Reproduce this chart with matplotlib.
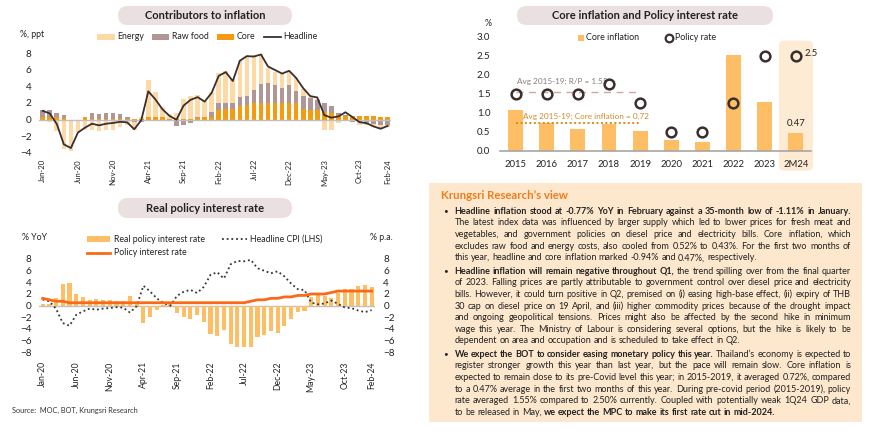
import matplotlib
matplotlib.use('Agg')
import matplotlib.pyplot as plt
from matplotlib.patches import FancyBboxPatch, Rectangle
from matplotlib.lines import Line2D
from matplotlib.transforms import IdentityTransform
import numpy as np
import pandas as pd

plt.rcParams['font.family'] = ['Lato', 'DejaVu Sans']

# ---------------- data ----------------
months = list(pd.date_range('2020-01-01', periods=50, freq='MS').strftime('%b-%y'))
tick_idx = [0, 5, 10, 15, 20, 25, 30, 35, 40, 45, 49]

core = [0.35, 0.3, 0.3, 0.2, 0.0, 0.0, 0.25, 0.1, 0.1, 0.1, 0.1, 0.1,
        0.05, 0.05, 0.05, 0.25, 0.3, 0.3, 0.1, 0.05, 0.05, 0.1, 0.15, 0.25,
        0.35, 1.1, 1.3, 1.33, 1.6, 1.75, 2.0, 2.06, 2.06, 2.06, 2.06, 2.06,
        1.95, 1.33, 1.15, 1.1, 0.95, 0.75, 0.5, 0.45, 0.4, 0.4, 0.4, 0.4,
        0.35, 0.3]
raw_food = [0.75, 0.8, 0.55, 0.35, -0.2, -0.2, 0.0, 0.65, 0.6, 0.65, 0.7, 0.55,
            0.25, -0.35, -0.3, -0.1, -0.2, -0.1, -0.1, -0.8, -0.7, -0.4, 0.1, 0.1,
            0.58, 0.85, 0.65, 0.73, 1.1, 1.15, 1.6, 2.2, 2.3, 2.1, 1.75, 2.1,
            1.55, 1.55, 1.4, 1.3, 1.0, 0.85, 0.35, 0.1, -0.3, -0.3, -0.4, -0.55,
            -0.7, -0.6]
energy = [-0.05, -0.3, -1.4, -3.6, -3.6, -1.3, -1.3, -1.3, -1.4, -1.25, -1.2, -0.95,
          -0.65, -0.85, 0.2, 4.5, 3.05, 1.2, 0.6, 0.8, 2.45, 2.8, 2.7, 1.95,
          2.4, 3.65, 3.95, 2.8, 4.5, 4.8, 4.2, 3.6, 1.9, 1.6, 1.65, 1.7,
          1.5, 0.85, 0.2, 0.1, -1.2, -1.2, -0.4, 0.0, -0.05, -0.35, -0.3, -0.35,
          -0.4, -0.3]
headline = [1.05, 0.74, -0.54, -2.99, -3.44, -1.57, -0.98, -0.50, -0.70, -0.50, -0.41, -0.27,
            -0.34, -1.17, -0.08, 3.41, 2.44, 1.25, 0.45, -0.02, 1.68, 2.38, 2.71, 2.17,
            3.23, 5.28, 5.73, 4.65, 7.10, 7.66, 7.61, 7.86, 6.41, 5.98, 5.55, 5.89,
            5.02, 3.79, 2.83, 2.67, 0.53, 0.23, 0.38, 0.88, 0.30, -0.31, -0.44, -0.83,
            -1.11, -0.77]

policy_rate = [1.25, 1.0, 0.75, 0.75, 0.5] + [0.5] * 26 + \
              [0.75, 1.0, 1.0, 1.25, 1.25, 1.5, 1.5, 1.75, 1.75, 2.0, 2.0, 2.0,
               2.25, 2.5, 2.5, 2.5, 2.5, 2.5, 2.5]
real_rate = [0.2, 0.26, 1.29, 3.74, 3.94, 2.07, 1.48, 1.0, 1.2, 1.0, 0.91, 0.77,
             0.84, 1.67, 0.58, -2.91, -1.94, -0.75, 0.05, 0.52, -1.18, -1.88, -2.21, -1.67,
             -2.73, -4.78, -5.23, -4.15, -6.6, -7.16, -7.11, -7.11, -5.41, -4.98, -4.30, -4.64,
             -3.52, -2.29, -1.08, -0.92, 1.47, 1.77, 1.62, 1.37, 2.2, 2.81, 2.94, 3.33,
             3.61, 3.27]

years = ['2015', '2016', '2017', '2018', '2019', '2020', '2021', '2022', '2023', '2M24']
core_annual = [1.06, 0.74, 0.56, 0.71, 0.52, 0.29, 0.23, 2.51, 1.27, 0.47]
policy_annual = [1.50, 1.50, 1.50, 1.75, 1.25, 0.50, 0.50, 1.25, 2.50, 2.50]
avg_rp = 1.55
avg_core = 0.72

# ---------------- colours ----------------
C_EN = '#FDD9A6'
C_RAW = '#B09797'
C_CORE = '#F59B10'
C_HEAD = '#3A2E2E'
C_REAL = '#FDBE66'
C_POL = '#FA6A16'
C_PILL = '#EAE0DF'
C_BOX = '#FDE8CD'
C_ZERO = '#BFBFBF'
TXT = '#222222'

W, H = 870, 436
fig = plt.figure(figsize=(W / 100, H / 100), dpi=100)
fig.patch.set_facecolor('white')


def fx(x):
    return x / W


def fy(y):
    return 1 - y / H


def axes_px(l, t, r, b):
    ax = fig.add_axes([fx(l), fy(b), (r - l) / W, (b - t) / H])
    ax.set_zorder(2)
    return ax


def rbox(x0, y0, x1, y1, color, r, z=-1):
    p = FancyBboxPatch((x0, H - y1), x1 - x0, y1 - y0,
                       boxstyle=f'round,pad=0,rounding_size={r}',
                       transform=IdentityTransform(), facecolor=color,
                       edgecolor='none', zorder=z)
    fig.patches.append(p)


def rect(x0, y0, x1, y1, color, z=5):
    p = Rectangle((x0, H - y1), x1 - x0, y1 - y0, transform=IdentityTransform(),
                  facecolor=color, edgecolor='none', zorder=z)
    fig.patches.append(p)


def hline(x0, x1, y, color, lw, ls='-'):
    fig.add_artist(Line2D([fx(x0), fx(x1)], [fy(y), fy(y)], color=color, lw=lw, ls=ls,
                          transform=fig.transFigure, zorder=5))


def ftext(x, y, s, size, **kw):
    kw.setdefault('va', 'center')
    kw.setdefault('color', TXT)
    kw.setdefault('zorder', 5)
    return fig.text(fx(x), fy(y), s, fontsize=size, **kw)


# ---------------- pills ----------------
rbox(118, 6, 292, 25, C_PILL, 9.5)
ftext(205, 15.5, 'Contributors to inflation', 8.0, ha='center', fontweight='bold')
rbox(118, 198, 292, 218, C_PILL, 10)
ftext(205, 208, 'Real policy interest rate', 8.0, ha='center', fontweight='bold')
rbox(517, 6, 773, 25, C_PILL, 9.5)
ftext(645, 15.5, 'Core inflation and Policy interest rate', 8.0, ha='center', fontweight='bold')

# ---------------- chart 1 ----------------
x = np.arange(len(months))
ax1 = axes_px(39.2, 53.3, 391.2, 152.7)
pos_b = np.zeros(len(x))
neg_b = np.zeros(len(x))
for vals, col in [(core, C_CORE), (raw_food, C_RAW), (energy, C_EN)]:
    v = np.array(vals)
    b = np.where(v >= 0, pos_b, neg_b)
    ax1.bar(x, v, bottom=b, width=0.66, color=col, zorder=2)
    pos_b += np.clip(v, 0, None)
    neg_b += np.clip(v, None, 0)
ax1.axhline(0, color=C_ZERO, lw=1.0, zorder=3)
ax1.plot(x, headline, color=C_HEAD, lw=1.3, zorder=4)
ax1.set_xlim(-0.5, len(x) - 0.5)
ax1.set_ylim(-4, 8)
ax1.set_yticks(range(-4, 9, 2))
ax1.set_xticks(tick_idx)
ax1.set_xticklabels([months[i] for i in tick_idx], rotation=90, fontsize=5.6)
ax1.tick_params(axis='y', labelsize=7.2, length=0, pad=5.5, colors=TXT)
ax1.tick_params(axis='x', length=0, pad=4.5, colors=TXT)
for s in ax1.spines.values():
    s.set_visible(False)
ax1.patch.set_alpha(0)

ftext(20, 34.5, '%, ppt', 6.3, ha='left')
rect(97, 33.5, 115, 40, C_EN)
ftext(117.5, 36.7, 'Energy', 6.3, ha='left')
rect(152, 33.5, 169, 40, C_RAW)
ftext(172, 36.7, 'Raw food', 6.3, ha='left')
rect(217, 33.5, 234, 40, C_CORE)
ftext(237, 36.7, 'Core', 6.3, ha='left')
hline(263.5, 281, 36.7, C_HEAD, 1.3)
ftext(283.5, 36.7, 'Headline', 6.3, ha='left')

# ---------------- chart 2 ----------------
ax2 = axes_px(39.3, 259, 375, 352.3)
ax2.bar(x, real_rate, width=0.6, color=C_REAL, zorder=2)
ax2.axhline(0, color=C_ZERO, lw=1.0, zorder=1)
ax2.plot(x, headline, color='#333333', lw=1.3, ls=(0, (1, 1.6)), zorder=3)
ax2.plot(x, policy_rate, color=C_POL, lw=2.0, zorder=4)
ax2.set_xlim(-0.5, len(x) - 0.5)
ax2.set_ylim(-8, 8)
ax2.set_yticks(range(-8, 9, 2))
ax2.set_xticks(tick_idx)
ax2.set_xticklabels([months[i] for i in tick_idx], rotation=90, fontsize=6.2)
ax2.tick_params(axis='y', labelsize=7.2, length=0, pad=5.5, colors=TXT)
ax2.tick_params(axis='x', length=0, pad=6.5, colors=TXT)
ax2r = ax2.twinx()
ax2r.set_ylim(-8, 8)
ax2r.set_yticks(range(-8, 9, 2))
ax2r.tick_params(axis='y', labelsize=7.2, length=0, pad=6, colors=TXT)
for a in (ax2, ax2r):
    for s in a.spines.values():
        s.set_visible(False)
    a.patch.set_alpha(0)

ftext(22, 237, '% YoY', 6.3, ha='left')
ftext(370, 237, '% p.a.', 6.3, ha='left')
rect(87, 236, 110, 242, C_REAL)
ftext(114, 239, 'Real policy interest rate', 6.3, ha='left')
hline(222, 247, 239, '#333333', 1.3, (0, (1, 1.6)))
ftext(250, 239, 'Headline CPI (LHS)', 6.3, ha='left')
hline(87, 110, 252.7, C_POL, 2.0)
ftext(114, 252.7, 'Policy interest rate', 6.3, ha='left')

ftext(12, 410, 'Source:  MOC, BOT, Krungsri Research', 5.3, ha='left', color='#333333')

# ---------------- chart 3 ----------------
rbox(779, 40.7, 813, 170.7, '#FEEBD4', 5, z=-1)
ax3 = axes_px(500.1, 36.7, 811.3, 150.7)
xi = np.arange(len(years))
ax3.bar(xi, core_annual, width=0.48, color=C_REAL, zorder=2)
ax3.plot(xi, policy_annual, 'o', ms=7, mfc='none', mec=C_HEAD, mew=1.8, zorder=4)
ax3.plot([0, 4], [avg_rp, avg_rp], color='#CFA6A2', lw=1.0, ls=(0, (5, 4)), zorder=3)
ax3.plot([0, 4], [avg_core, avg_core], color='#E08A10', lw=1.4, ls=(0, (1, 1.3)), zorder=3)
ax3.text(0.03, 1.82, 'Avg 2015-19; R/P = 1.55', fontsize=5.9, color='#8A7C7C', va='center')
ax3.text(0.22, 0.90, 'Avg 2015-19; Core inflation = 0.72', fontsize=5.9, color='#D18A2A', va='center')
ax3.text(9.28, 2.56, '2.5', fontsize=6.8, color=TXT, va='center')
ax3.text(9.0, 0.72, '0.47', fontsize=6.8, color=TXT, va='center', ha='center')
ax3.set_xlim(-0.5, len(years) - 0.5)
ax3.set_ylim(0, 3)
ax3.set_yticks(np.arange(0, 3.01, 0.5))
ax3.set_yticklabels([f'{v:.1f}' for v in np.arange(0, 3.01, 0.5)])
ax3.set_xticks(xi)
ax3.set_xticklabels(years)
ax3.tick_params(axis='y', labelsize=7.0, length=0, pad=7, colors=TXT)
ax3.tick_params(axis='x', labelsize=6.8, length=0, pad=6.5, colors=TXT)
for k, s in ax3.spines.items():
    s.set_visible(k == 'bottom')
ax3.spines['bottom'].set_color('#A6A6A6')
ax3.spines['bottom'].set_linewidth(1.2)
ax3.patch.set_alpha(0)

ftext(485, 23.5, '%', 6.3, ha='left')
rect(577.5, 34.5, 583.5, 40.5, C_REAL)
ftext(586, 37.7, 'Core inflation', 6.4, ha='left')
fig.add_artist(Line2D([fx(669.5)], [fy(37.7)], marker='o', ms=5.5, mfc='none',
                      mec=C_HEAD, mew=1.6, transform=fig.transFigure, zorder=5))
ftext(675, 37.7, 'Policy rate', 6.4, ha='left')

# ---------------- text box ----------------
rect(429, 183.3, 862, 422, C_BOX, z=-1)
ftext(441, 195.5, 'Krungsri Research’s view', 8.2, ha='left', color='#F07A1C', fontweight='bold')

paras = [
    [[('Headline inflation stood at -0.77% YoY in February against a 35-month low of -1.11% in January.', True)],
     [('The latest index data was influenced by larger supply which led to lower prices for fresh meat and', False)],
     [('vegetables, and government policies on diesel price and electricity bills. Core inflation, which', False)],
     [('excludes raw food and energy costs, also cooled from 0.52% to 0.43%. For the first two months of', False)],
     [('this year, headline and core inflation marked -0.94% and 0.47%, respectively.', False)]],
    [[('Headline inflation will remain negative throughout Q1,', True), ('the trend spilling over from the final quarter', False)],
     [('of 2023. Falling prices are partly attributable to government control over diesel price and electricity', False)],
     [('bills. However, it could turn positive in Q2, premised on (i) easing high-base effect, (ii) expiry of THB', False)],
     [('30 cap on diesel price on 19 April, and (iii) higher commodity prices because of the drought impact', False)],
     [('and ongoing geopolitical tensions. Prices might also be affected by the second hike in minimum', False)],
     [('wage this year. The Ministry of Labour is considering several options, but the hike is likely to be', False)],
     [('dependent on area and occupation and is scheduled to take effect in Q2.', False)]],
    [[('We expect the BOT to consider easing monetary policy this year.', True), ('Thailand’s economy is expected to', False)],
     [('register stronger growth this year than last year, but the pace will remain slow. Core inflation is', False)],
     [('expected to remain close to its pre-Covid level this year; in 2015-2019, it averaged 0.72%, compared', False)],
     [('to a 0.47% average in the first two months of this year. During pre-covid period (2015-2019), policy', False)],
     [('rate averaged 1.55% compared to 2.50% currently. Coupled with potentially weak 1Q24 GDP data,', False)],
     [('to be released in May,', False), ('we expect the MPC to make its first rate cut in mid-2024.', True)]],
]

renderer = fig.canvas.get_renderer()


def text_w(s, size, bold):
    t = fig.text(0, 0, s, fontsize=size, fontweight='bold' if bold else 'normal')
    w = t.get_window_extent(renderer).width
    t.remove()
    return w


X0, X1 = 454.5, 851
avail = X1 - X0
base = 10.0
sp_base = text_w('a a', base, False) - text_w('aa', base, False)
maxw = 0
for para in paras:
    for li, line in enumerate(para[:-1]):
        words = [(w, b) for seg, b in line for w in seg.split()]
        tot = sum(text_w(w, base, b) for w, b in words) + sp_base * 0.85 * (len(words) - 1)
        maxw = max(maxw, tot)
size = base * avail / maxw
size = min(size, 6.6)
sp = text_w('a a', size, False) - text_w('aa', size, False)

y = 211
dy = 11.6
for para in paras:
    ftext(445.5, y, '•', size * 0.9, ha='center', va='center')
    for li, line in enumerate(para):
        words = [(w, b) for seg, b in line for w in seg.split()]
        ws = [text_w(w, size, b) for w, b in words]
        last = li == len(para) - 1
        gap = sp if last else (avail - sum(ws)) / (len(words) - 1)
        xx = X0
        for (w, b), wd in zip(words, ws):
            fig.text(fx(xx), fy(y + 2.8), w, fontsize=size, zorder=5,
                     fontweight='bold' if b else 'normal', va='baseline', ha='left', color=TXT)
            xx += wd + gap
        y += dy
    y += 1.9

fig.savefig('out.png', dpi=100, facecolor='white')
